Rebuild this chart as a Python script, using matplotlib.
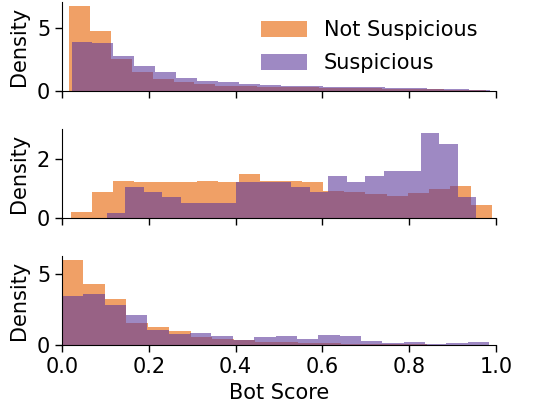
import numpy as np
import matplotlib
matplotlib.use("Agg")
import matplotlib.pyplot as plt

labels = ["Not Suspicious", "Suspicious"]
colors = ["#E66100", "#5D3A9B"]

# Panel 1 (top)
p1_not_range = (0.017, 0.977)
p1_not = [6.8, 4.78, 2.55, 1.52, 0.93, 0.68, 0.52, 0.40, 0.37, 0.32,
          0.28, 0.25, 0.22, 0.20, 0.17, 0.14, 0.12, 0.10, 0.08, 0.06]
p1_sus_range = (0.022, 0.986)
p1_sus = [3.88, 3.83, 2.74, 1.94, 1.47, 0.99, 0.76, 0.71, 0.50, 0.45,
          0.40, 0.37, 0.32, 0.29, 0.27, 0.21, 0.19, 0.16, 0.11, 0.08]

# Panel 2 (middle)
p2_not_range = (0.021, 0.990)
p2_not = [0.19, 0.89, 1.26, 1.20, 1.22, 1.20, 1.25, 1.21, 1.47, 1.26,
          1.26, 1.20, 0.91, 0.89, 0.82, 0.75, 0.85, 0.98, 1.09, 0.42]
p2_sus_range = (0.103, 0.954)
p2_sus = [0.15, 1.04, 0.88, 0.70, 0.49, 0.49, 0.49, 1.22, 1.22, 1.22,
          1.06, 0.89, 1.42, 1.22, 1.42, 1.60, 1.60, 2.87, 2.49, 0.70]

# Panel 3 (bottom)
p3_not_range = (0.0, 0.990)
p3_not = [5.91, 4.25, 3.22, 1.54, 1.24, 0.98, 0.56, 0.40, 0.33, 0.21,
          0.23, 0.16, 0.12, 0.10, 0.08, 0.06, 0.05, 0.04, 0.03, 0.03]
p3_sus_range = (0.0, 0.984)
p3_sus = [3.41, 3.55, 2.78, 2.08, 1.07, 0.77, 0.82, 0.63, 0.37, 0.54,
          0.63, 0.40, 0.72, 0.61, 0.26, 0.16, 0.19, 0.07, 0.12, 0.21]

panels = [
    [(p1_not_range, p1_not), (p1_sus_range, p1_sus)],
    [(p2_not_range, p2_not), (p2_sus_range, p2_sus)],
    [(p3_not_range, p3_not), (p3_sus_range, p3_sus)],
]
yticks = [[0, 5], [0, 2], [0, 5]]
xticks = [0.0, 0.2, 0.4, 0.6, 0.8, 1.0]

plt.rcParams['font.family'] = ['DejaVu Sans']
plt.rcParams['font.size'] = 15

fig = plt.figure(figsize=(5.38, 4.08), dpi=100)
left, width = 0.1152, 0.8067
bottoms = [0.778, 0.466, 0.154]
height = 0.218

for i, series in enumerate(panels):
    ax = fig.add_axes([left, bottoms[i], width, height])
    for (rng, vals), c, lab in zip(series, colors, labels):
        edges = np.linspace(rng[0], rng[1], len(vals) + 1)
        ax.hist(edges[:-1], bins=edges, weights=vals, color=c, alpha=0.6,
                label=lab)
    ax.set_xlim(0, 1)
    ax.set_xticks(xticks)
    ax.set_yticks(yticks[i])
    ax.set_ylabel("Density", labelpad=6)
    ax.spines['top'].set_visible(False)
    ax.spines['right'].set_visible(False)
    ax.tick_params(length=5, width=1)
    if i < 2:
        ax.set_xticklabels([])
    else:
        ax.set_xlabel("Bot Score")
    if i == 0:
        ax.legend(loc="upper right", frameon=False, handlelength=2.2,
                  handleheight=0.8, labelspacing=0.6)

fig.savefig("out.png", dpi=100)
